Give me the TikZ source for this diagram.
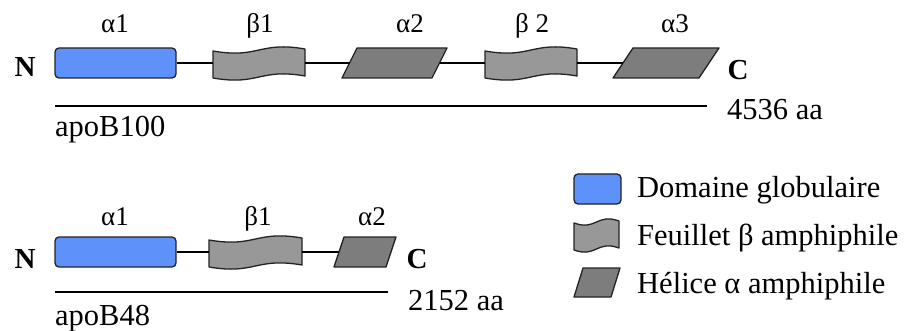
\documentclass[tikz,border=0pt]{standalone}
\usepackage{fontspec}
\setmainfont{Liberation Serif}
\usetikzlibrary{calc}
\definecolor{edge}{RGB}{35,35,35}
\definecolor{globblue}{RGB}{95,145,250}
\definecolor{sheetgray}{RGB}{152,152,152}
\definecolor{helixgray}{RGB}{125,125,125}
\newcommand\lblfont{\fontsize{27}{31}\selectfont}
\newcommand\txtfont{\fontsize{30.5}{34}\selectfont}
\newcommand\termfont{\fontsize{29}{33}\selectfont\bfseries}
\newcommand\drawsheet[1]{%
  \draw[sheetfill] let \p1=(#1.north west), \p2=(#1.south east), \n1={\x2-\x1} in
    (\x1,\y1-3pt) .. controls (\x1+0.5*\n1,\y1-11pt) and (\x1+0.5*\n1,\y1+7pt) .. (\x2,\y1-1pt)
    -- (\x2,\y1-28pt) .. controls (\x1+0.5*\n1,\y1-20pt) and (\x1+0.5*\n1,\y1-38pt) .. (\x1,\y1-30pt)
    -- cycle;}
\newcommand\drawhelix[2]{%
  \draw[helixfill] (#1.south west) -- ([xshift=#2pt]#1.north west) -- (#1.north east)
    -- ([xshift=-#2pt]#1.south east) -- cycle;}
\tikzset{
  glob/.style={draw=edge, fill=globblue, rounded corners=4pt, line width=1.3pt, inner sep=0pt, minimum height=30pt},
  slot/.style={inner sep=0pt, outer sep=0pt, draw=none, minimum height=30pt},
  link/.style={line width=1.3pt, draw=black},
  ruler/.style={line width=1.6pt, draw=black},
  lbl/.style={font=\lblfont, anchor=base, inner sep=0pt},
  txt/.style={font=\txtfont, anchor=base west, inner sep=0pt},
  term/.style={font=\termfont, anchor=base, inner sep=0pt},
  sheetfill/.style={draw=edge, fill=sheetgray, line width=1.3pt, line join=round},
  helixfill/.style={draw=edge, fill=helixgray, line width=1.3pt, line join=round},
}
\begin{document}
\begin{tikzpicture}[x=1pt,y=-1pt]
\useasboundingbox (0,0) rectangle (912,331);
% ---- apoB100 ----
\node[glob, minimum width=121pt] (a1) at (115.5,63) {};
\node[slot, minimum width=92pt] (b1) at (259,63) {};
\node[slot, minimum width=105pt] (h2) at (394.5,63) {};
\node[slot, minimum width=92pt] (b2) at (531,63) {};
\node[slot, minimum width=106pt] (h3) at (666,63) {};
\drawsheet{b1}
\drawsheet{b2}
\drawhelix{h2}{15}
\drawhelix{h3}{20}
\draw[link] (a1.east) -- (b1.west);
\draw[link] (b1.east) -- ([xshift=7.5pt]h2.west);
\draw[link] ([xshift=-7.5pt]h2.east) -- (b2.west);
\draw[link] (b2.east) -- ([xshift=10pt]h3.west);
\node[lbl] (la1) at (115,33) {α1};
\node[lbl] (lb1) at (260,33) {β1};
\node[lbl] (la2) at (410,33) {α2};
\node[lbl] (lb2) at (532,33) {β 2};
\node[lbl] (la3) at (675,33) {α3};
\node[term] (n1) at (25,77) {N};
\node[term] (c1) at (738,80) {C};
\coordinate (r1s) at (55,106);
\coordinate (r1e) at (707,106);
\draw[ruler] (r1s) -- (r1e);
\node[txt] (len1) at (727,120) {4536 aa};
\node[txt] (nm1) at (55,137) {apoB100};
% ---- apoB48 ----
\node[glob, minimum width=121pt] (g1) at (115.5,252) {};
\node[slot, minimum width=93pt] (s1) at (255.5,252) {};
\node[slot, minimum width=62pt] (e2) at (365,252) {};
\drawsheet{s1}
\drawhelix{e2}{10}
\draw[link] (g1.east) -- (s1.west);
\draw[link] (s1.east) -- ([xshift=5pt]e2.west);
\node[lbl] (ma1) at (115,225) {α1};
\node[lbl] (mb1) at (258,225) {β1};
\node[lbl] (ma2) at (372,225) {α2};
\node[term] (n2) at (25,268) {N};
\node[term] (c2) at (417,268) {C};
\coordinate (r2s) at (55,292);
\coordinate (r2e) at (388,292);
\draw[ruler] (r2s) -- (r2e);
\node[txt] (len2) at (408,310) {2152 aa};
\node[txt] (nm2) at (55,325) {apoB48};
% ---- legend ----
\node[glob, minimum width=47pt] (kg) at (597.5,189) {};
\node[slot, minimum width=45pt] (ks) at (596.5,235) {};
\node[slot, minimum width=46pt, minimum height=29pt] (kh) at (597,282.5) {};
\drawsheet{ks}
\drawhelix{kh}{9}
\node[txt] (tg) at (637,197) {Domaine globulaire};
\node[txt] (ts) at (637,245) {Feuillet β amphiphile};
\node[txt] (th) at (637,293) {Hélice α amphiphile};
\end{tikzpicture}
\end{document}
